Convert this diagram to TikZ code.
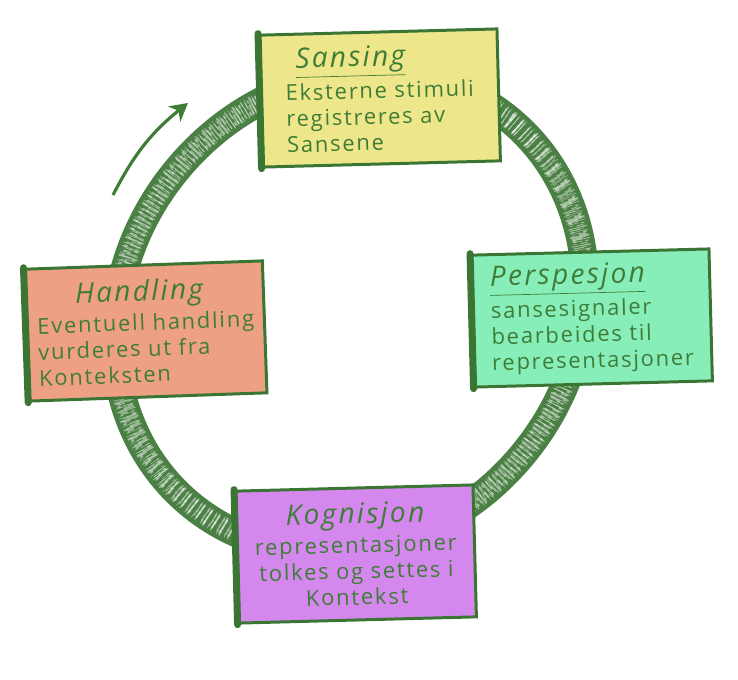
\documentclass[tikz,border=0pt]{standalone}
\usepackage{fontspec}
\setmainfont{Open Sans}[LetterSpace=8]
\usepackage{tikz}
\usetikzlibrary{arrows.meta,positioning}
\definecolor{ink}{HTML}{3F7D37}
\definecolor{cardline}{HTML}{3A7533}
\definecolor{ringgreen}{HTML}{4A8043}
\definecolor{yellowcard}{HTML}{EEE68A}
\definecolor{greencard}{HTML}{87EEBA}
\definecolor{salmoncard}{HTML}{EEA084}
\definecolor{purplecard}{HTML}{D488EE}
\newcommand{\cardtitle}[1]{{\fontsize{16}{16}\selectfont\itshape #1}}

\begin{document}
\begin{tikzpicture}[
  x=0.02cm, y=-0.02cm,
  card/.style={
    rectangle,
    draw=cardline,
    line width=1.7pt,
    text=ink,
    minimum width=4.75cm,
    minimum height=2.64cm,
    align=left,
    font=\fontsize{12.5}{14.8}\selectfont
  },
  cardedge/.style={draw=cardline,line width=4pt,line cap=round},
  ring/.style={draw=ringgreen,line width=16pt},
  speck/.style={draw=white,line width=#1,opacity=0.45,
    dash pattern=on 0.6pt off 1.7pt on 0.3pt off 2.3pt on 1.1pt off 0.9pt on 0.4pt off 3.1pt},
  arrow/.style={-{Stealth[length=10pt,width=11pt,inset=3pt]},draw=ink,line width=1.8pt}
]
\useasboundingbox (0,0) rectangle (738,680);

% the cycle ring
\coordinate (hub) at (350,312);
\draw[ring,rotate around={50:(hub)}] (hub) ellipse [x radius=250, y radius=224];
\foreach \w/\r in {11pt/250,6pt/247,4pt/253,2pt/244,2pt/256}
  \draw[speck=\w,rotate around={50:(hub)}] (hub) ellipse [x radius=\r, y radius=\r-26];

% arrow showing direction
\coordinate (turnstart) at (113,195);
\coordinate (turnend) at (188,103);
\draw[arrow] (turnstart) to[bend left=12] (turnend);

% the four stages
\node[card,fill=yellowcard,rotate=1.5] (sansing) at (380,98)
  {\hspace*{6pt}\cardtitle{\underline{Sansing}}\\[2pt]
   Eksterne stimuli\\ registreres av\\ Sansene};
\node[card,fill=greencard,rotate=1.5] (perspesjon) at (592,318)
  {\cardtitle{\underline{Perspesjon}}\\[2pt]
   sansesignaler\\ bearbeides til\\ representasjoner};
\node[card,fill=salmoncard,rotate=2] (handling) at (146,331)
  {\hspace*{22pt}\cardtitle{Handling}\\[2pt]
   Eventuell handling\\ vurderes ut fra\\ Konteksten};
\node[card,fill=purplecard,rotate=1.5,align=center] (kognisjon) at (356,554)
  {\cardtitle{Kognisjon}\\[2pt]
   representasjoner\\ tolkes og settes i\\ Kontekst};

% thick left edges
\foreach \n in {sansing,perspesjon,handling,kognisjon}
  \draw[cardedge] (\n.south west) -- (\n.north west);
\end{tikzpicture}
\end{document}
